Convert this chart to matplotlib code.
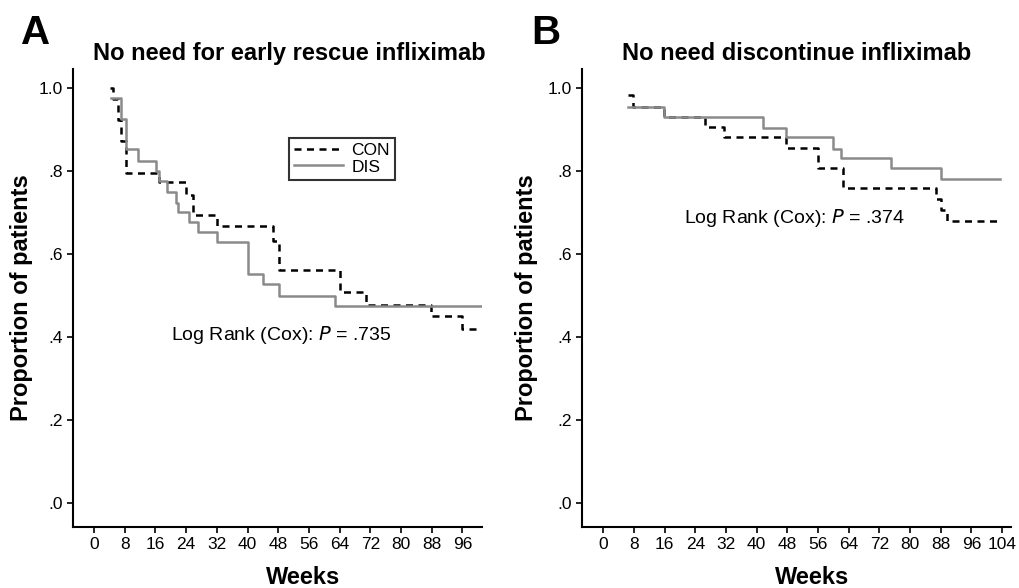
import matplotlib.pyplot as plt

plt.rcParams['font.family'] = ['Liberation Sans', 'DejaVu Sans']

# Panel A: no need for early rescue infliximab (Kaplan-Meier steps)
a_con_weeks = [4.2, 5.0, 6.2, 6.9, 8.2, 16.8, 23.9, 25.9, 32.0, 46.6, 48.1, 64.2, 70.9, 87.9, 96.0, 100.8]
a_con_surv = [1.0, 0.974, 0.923, 0.872, 0.795, 0.774, 0.742, 0.694, 0.668, 0.632, 0.562, 0.509, 0.477, 0.451, 0.420, 0.420]
a_dis_weeks = [4.3, 7.1, 8.2, 11.5, 16.2, 17.0, 19.1, 21.4, 22.0, 24.7, 27.1, 32.0, 40.1, 44.0, 48.1, 62.9, 100.8]
a_dis_surv = [0.977, 0.926, 0.853, 0.825, 0.801, 0.777, 0.750, 0.723, 0.702, 0.678, 0.652, 0.629, 0.551, 0.527, 0.499, 0.475, 0.475]

# Panel B: no need discontinue infliximab
b_con_weeks = [6.4, 7.7, 15.7, 26.5, 31.6, 47.7, 55.9, 62.6, 86.7, 88.0, 89.6, 103.5]
b_con_surv = [0.984, 0.955, 0.931, 0.905, 0.881, 0.856, 0.808, 0.758, 0.733, 0.707, 0.680, 0.680]
b_dis_weeks = [6.4, 15.7, 41.6, 47.7, 59.9, 62.0, 75.0, 88.1, 103.5]
b_dis_surv = [0.955, 0.931, 0.903, 0.881, 0.853, 0.831, 0.807, 0.781, 0.781]

a_xticks = list(range(0, 97, 8))
b_xticks = list(range(0, 105, 8))
yticks = [0, 0.2, 0.4, 0.6, 0.8, 1.0]
ytick_labels = ['.0', '.2', '.4', '.6', '.8', '1.0']

gray = '#8a8a8a'

fig = plt.figure(figsize=(10.19, 5.88), dpi=100)
axA = fig.add_axes([0.0716, 0.1037, 0.401, 0.779])
axB = fig.add_axes([0.571, 0.1037, 0.421, 0.779])


def style(ax, xticks, xlim):
    for s in ['top', 'right']:
        ax.spines[s].set_visible(False)
    for s in ['left', 'bottom']:
        ax.spines[s].set_linewidth(1.5)
    ax.set_xlim(*xlim)
    ax.set_ylim(-0.058, 1.046)
    ax.set_xticks(xticks)
    ax.set_yticks(yticks)
    ax.set_yticklabels(ytick_labels)
    ax.tick_params(direction='out', length=4, width=1.2, labelsize=12.5, pad=3)
    ax.set_ylabel('Proportion of patients', fontsize=17, fontweight='bold')
    ax.set_xlabel('Weeks', fontsize=17, fontweight='bold')


axA.step(a_con_weeks, a_con_surv, where='post', color='black', lw=1.8,
         linestyle=(0, (2.8, 2.2)), label='CON')
axA.step(a_dis_weeks, a_dis_surv, where='post', color=gray, lw=1.8, label='DIS')
style(axA, a_xticks, (-5.5, 101))
axA.yaxis.set_label_coords(-0.098, 0.5)
axA.xaxis.set_label_coords(0.562, -0.085)
axA.text(0.53, 1.02, 'No need for early rescue infliximab', transform=axA.transAxes,
         ha='center', va='baseline', fontsize=17, fontweight='bold')
axA.text(48.8, 0.404, 'Log Rank (Cox): $\\mathit{P}$ = .735', ha='center', va='center', fontsize=14)
leg = axA.legend(loc='upper left', bbox_to_anchor=(0.529, 0.849), fontsize=12.5,
                 frameon=True, fancybox=False, edgecolor='black', handlelength=2.8,
                 borderpad=0.3, labelspacing=0.05, handletextpad=0.5, borderaxespad=0)
leg.get_frame().set_linewidth(1.5)

axB.step(b_con_weeks, b_con_surv, where='post', color='black', lw=1.8,
         linestyle=(0, (2.8, 2.2)), label='CON')
axB.step(b_dis_weeks, b_dis_surv, where='post', color=gray, lw=1.8, label='DIS')
style(axB, b_xticks, (-5.6, 106.3))
axB.yaxis.set_label_coords(-0.102, 0.5)
axB.xaxis.set_label_coords(0.536, -0.085)
axB.text(0.50, 1.02, 'No need discontinue infliximab', transform=axB.transAxes,
         ha='center', va='baseline', fontsize=17, fontweight='bold')
axB.text(49.8, 0.687, 'Log Rank (Cox): $\\mathit{P}$ = .374', ha='center', va='center', fontsize=14)

fig.text(0.021, 0.925, 'A', fontsize=29, fontweight='bold')
fig.text(0.521, 0.925, 'B', fontsize=29, fontweight='bold')

fig.savefig('out.png', dpi=100)
